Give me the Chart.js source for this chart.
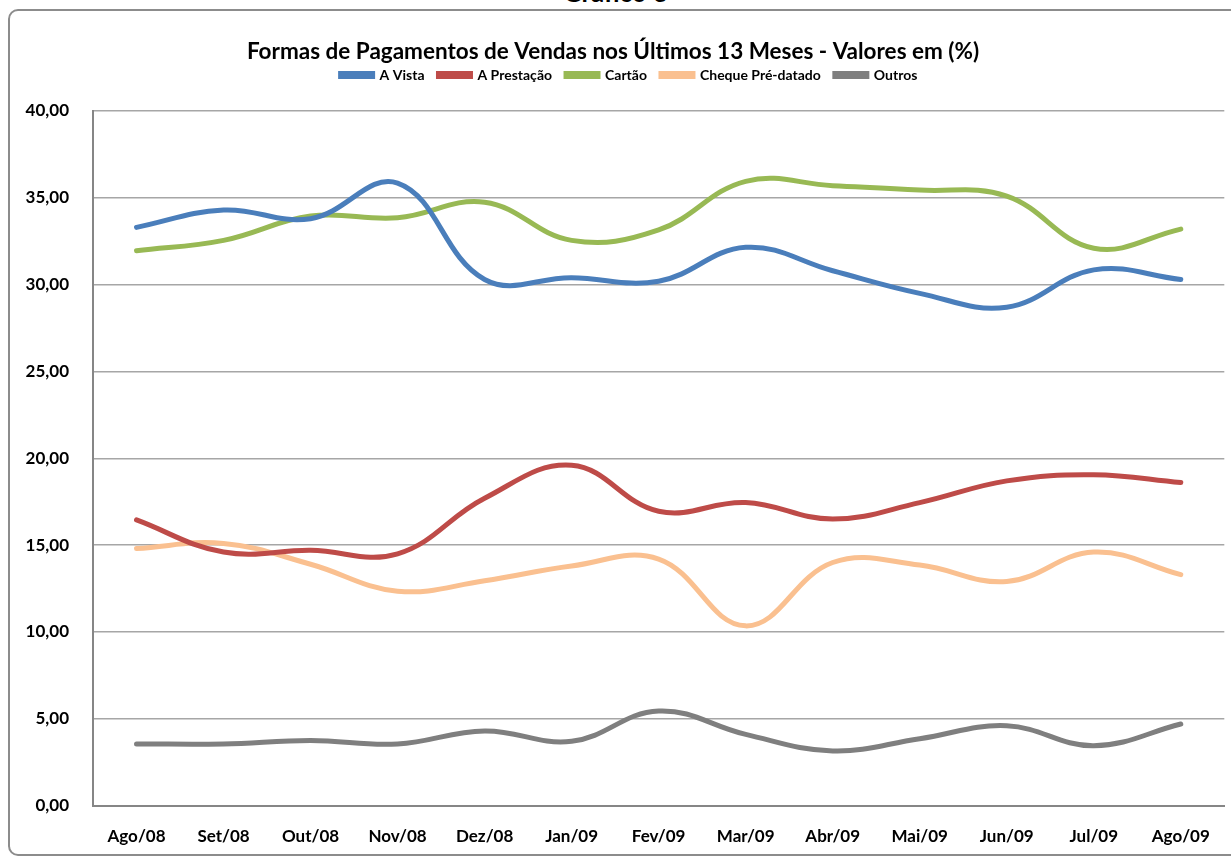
<!DOCTYPE html>
<html>
<head>
<meta charset="utf-8">
<script src="https://cdn.jsdelivr.net/npm/chart.js@4/dist/chart.umd.min.js"></script>
<style>
  html, body { margin: 0; padding: 0; background: #fff; overflow: hidden; }
  #wrap { position: relative; width: 1231px; height: 857px; overflow: hidden; }
  #frame {
    position: absolute; left: 8px; top: 9px; width: 1240px; height: 843px;
    border: 2px solid #8c8c8c; border-radius: 10px;
  }
  #top {
    position: absolute; left: 0; width: 1231px; top: -24px; line-height: 26px; text-align: center;
    font: bold 26px Lato, sans-serif; color: #000;
  }
  canvas { position: absolute; left: 0; top: 0; }
</style>
</head>
<body>
<div id="wrap">
  <div id="top">Gráfico 3</div>
  <div id="frame"></div>
  <canvas id="chart" width="1231" height="857"></canvas>
</div>
<script>
const months = ['Ago/08', 'Set/08', 'Out/08', 'Nov/08', 'Dez/08', 'Jan/09', 'Fev/09',
                'Mar/09', 'Abr/09', 'Mai/09', 'Jun/09', 'Jul/09', 'Ago/09']

const aVista     = [33.3, 34.3, 33.8, 35.85, 30.3, 30.4, 30.2, 32.15, 30.8, 29.5, 28.7, 30.85, 30.3]
const aPrestacao = [16.45, 14.6, 14.7, 14.5, 17.7, 19.6, 16.95, 17.45, 16.5, 17.45, 18.7, 19.05, 18.6]
const cartao     = [31.95, 32.55, 33.95, 33.85, 34.75, 32.55, 33.15, 35.95, 35.7, 35.45, 35.1, 32.1, 33.2]
const cheque     = [14.8, 15.1, 13.9, 12.35, 12.95, 13.8, 14.2, 10.35, 14.0, 13.85, 12.9, 14.6, 13.3]
const outros     = [3.55, 3.55, 3.75, 3.55, 4.3, 3.7, 5.45, 4.1, 3.15, 3.85, 4.6, 3.45, 4.7]

const yTicks = [0, 5, 10, 15, 20, 25, 30, 35, 40]

const FONT = 'Lato, sans-serif'

const series = [
  { label: 'A Vista', data: aVista, color: '#4A7EBB' },
  { label: 'A Prestação', data: aPrestacao, color: '#BE4B48' },
  { label: 'Cartão', data: cartao, color: '#98B954' },
  { label: 'Cheque Pré-datado', data: cheque, color: '#FAC090' },
  { label: 'Outros', data: outros, color: '#7F7F7F' }
]

// leave some room under the legend and nudge it right, like the original sheet
const legendGap = {
  id: 'legendGap',
  beforeLayout(chart) {
    const lg = chart.legend
    if (lg && !lg._gapped) {
      const fit = lg.fit.bind(lg)
      lg.fit = function () { fit(); this.height += 19 }
      lg._gapped = true
    }
  },
  afterLayout(chart) {
    const lg = chart.legend
    if (lg) { lg.left += 16; lg.right += 16 }
  }
}

new Chart(document.getElementById('chart'), {
  type: 'line',
  data: {
    labels: months,
    datasets: series.map(s => ({
      label: s.label,
      data: s.data,
      borderColor: s.color,
      backgroundColor: s.color,
      borderWidth: 5,
      borderCapStyle: 'round',
      pointRadius: 0,
      tension: 0.4,
      fill: false
    }))
  },
  plugins: [legendGap],
  options: {
    responsive: false,
    animation: false,
    layout: { padding: { left: 0, right: 5, top: 0, bottom: -11 } },
    plugins: {
      title: {
        display: true,
        text: 'Formas de Pagamentos de Vendas nos Últimos 13 Meses - Valores em (%)',
        color: '#000',
        font: { family: FONT, size: 22.5, weight: 'bold' },
        padding: { top: 38, bottom: -11 }
      },
      legend: {
        display: true,
        labels: {
          color: '#000',
          font: { family: FONT, size: 14, weight: 'bold' },
          boxWidth: 32,
          boxHeight: 3,
          padding: 14
        }
      },
      tooltip: { enabled: false }
    },
    scales: {
      x: {
        offset: true,
        grid: { display: false, drawTicks: false },
        border: { color: '#868686', width: 2 },
        ticks: {
          color: '#000',
          font: { family: FONT, size: 17, weight: 'bold' },
          padding: 21,
          maxRotation: 0
        }
      },
      y: {
        min: 0,
        max: 40,
        afterBuildTicks: axis => { axis.ticks = yTicks.map(v => ({ value: v })) },
        afterFit: axis => { axis.width = 93 },
        grid: { color: '#a6a6a6', lineWidth: 1.5, drawTicks: false },
        border: { color: '#868686', width: 2 },
        ticks: {
          color: '#000',
          font: { family: FONT, size: 17, weight: 'bold' },
          padding: 24,
          callback: v => v.toFixed(2).replace('.', ',')
        }
      }
    }
  }
})
</script>
</body>
</html>
